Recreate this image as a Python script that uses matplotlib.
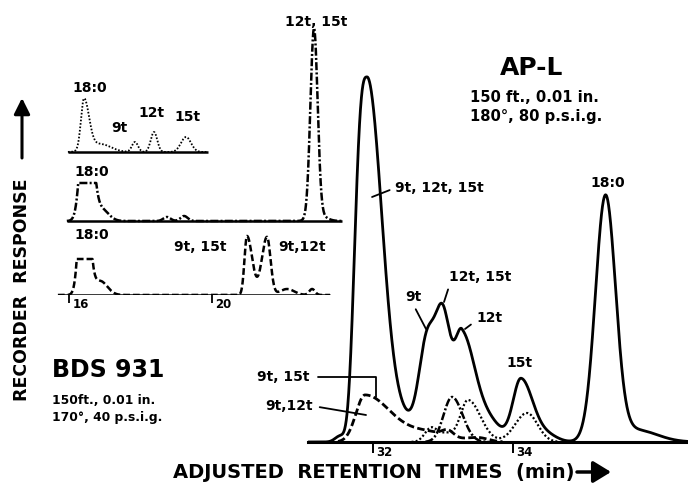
import numpy as np
import matplotlib
matplotlib.use("Agg")
import matplotlib.pyplot as plt

W, H = 688, 486
plt.rcParams['font.family'] = ['DejaVu Sans']
plt.rcParams['font.weight'] = 'bold'

# ---------------- main chromatogram (AP-L) : retention time (min) / response
main_xlim = (31.071, 36.5)
main_ylim = (0, 422)
main_ticks = [32, 34]
main_tick_labels = ['32', '34']

# solid trace : mixture (peak centre, height, left width, right width, left exponent)
solid_c = [31.529, 31.914, 32.457, 32.771, 33.000, 33.271, 33.671, 34.114, 34.500, 35.321, 35.757]
solid_h = [6, 365, 18, 97, 120, 107, 18, 63, 6, 243, 12]
solid_sl = [0.07, 0.164, 0.171, 0.114, 0.107, 0.107, 0.171, 0.114, 0.143, 0.143, 0.30]
solid_sr = [0.07, 0.214, 0.171, 0.114, 0.107, 0.186, 0.171, 0.171, 0.143, 0.143, 0.30]
solid_pl = [2, 3, 2, 2, 2, 2, 2, 2, 2, 2, 2]
solid_range = (31.071, 36.5)

# dashed trace : 9t,15t + 9t,12t fraction
dashed_c = [31.886, 32.80, 33.07, 33.50]
dashed_h = [47, 9, 6, 4]
dashed_sl = [0.13, 0.30, 0.08, 0.15]
dashed_sr = [0.37, 0.30, 0.08, 0.15]
dashed_range = (31.50, 33.85)

# dash-dot trace : 12t,15t fraction
dashdot_c = [33.129]
dashdot_h = [45]
dashdot_sl = [0.12]
dashdot_sr = [0.15]
dashdot_range = (32.75, 33.65)

# dotted trace : 18:0 / 9t / 12t / 15t fraction
dotted_c = [32.83, 33.05, 33.357, 34.20]
dotted_h = [14, 8, 42, 29]
dotted_sl = [0.09, 0.10, 0.11, 0.17]
dotted_sr = [0.09, 0.10, 0.18, 0.15]
dotted_range = (32.55, 34.65)

# ---------------- inset chromatograms (BDS 931)
inset_xlim = (15.469, 23.72)
inset_ylim = (0, 275)
inset_ticks = [16, 20]
inset_tick_labels = ['16', '20']

top_base = 143
top_range = (15.97, 19.89)
top_c = [16.42, 16.87, 17.846, 18.378, 19.273]
top_h = [51, 8, 10, 20, 15]
top_sl = [0.085, 0.30, 0.085, 0.09, 0.14]
top_sr = [0.14, 0.30, 0.085, 0.09, 0.14]

mid_base = 74
mid_range = (15.94, 23.64)
mid_clip = 38          # recorder off scale on 18:0
mid_c = [16.49, 16.90, 18.74, 19.22, 22.853, 22.98]
mid_h = [150, 12, 4, 5, 188, 6]
mid_sl = [0.14, 0.20, 0.10, 0.10, 0.10, 0.20]
mid_sr = [0.15, 0.20, 0.10, 0.10, 0.10, 0.20]

bot_base = 0
bot_range = (15.69, 23.30)
bot_clip = 36
bot_c = [16.42, 16.87, 20.979, 21.538, 22.10, 22.80]
bot_h = [150, 14, 59, 58, 6, 6]
bot_sl = [0.12, 0.20, 0.07, 0.145, 0.20, 0.08]
bot_sr = [0.13, 0.20, 0.145, 0.10, 0.20, 0.08]
clip_until = 17.5


def trace(t, c, h, sl, sr, pl=None):
    y = np.zeros_like(t)
    for i in range(len(c)):
        d = t - c[i]
        s = np.where(d < 0, sl[i], sr[i])
        p = np.where(d < 0, (pl[i] if pl else 2), 2)
        y += h[i] * np.exp(-0.5 * np.abs(d / s) ** p)
    return y


def fpx(x, y):
    return (x, H - y)


fig = plt.figure(figsize=(W / 100, H / 100), dpi=100)

# ---------------- main axes
ax = fig.add_axes([308 / W, (H - 442) / H, 380 / W, 422 / H])
ax.set_xlim(*main_xlim)
ax.set_ylim(*main_ylim)
for s in ['top', 'right', 'left']:
    ax.spines[s].set_visible(False)
ax.spines['bottom'].set_linewidth(2.2)
ax.set_yticks([])
ax.set_xticks(main_ticks)
ax.set_xticklabels([])
ax.tick_params(axis='x', direction='out', length=8, width=1.4)
for tk, lb in zip(main_ticks, main_tick_labels):
    ax.annotate(lb, xy=(tk, 0), xycoords=('data', 'axes fraction'), xytext=(2.5, -3),
                textcoords='offset points', ha='left', va='top', fontsize=8.5,
                fontweight='bold', annotation_clip=False)

t = np.linspace(*solid_range, 2000)
ax.plot(t, trace(t, solid_c, solid_h, solid_sl, solid_sr, solid_pl), color='black', lw=2.0,
        solid_capstyle='round')
t = np.linspace(*dashed_range, 800)
ax.plot(t, trace(t, dashed_c, dashed_h, dashed_sl, dashed_sr), color='black', lw=2.0,
        linestyle=(0, (2.7, 1.2)))
t = np.linspace(*dashdot_range, 400)
ax.plot(t, trace(t, dashdot_c, dashdot_h, dashdot_sl, dashdot_sr), color='black', lw=1.8,
        linestyle=(0, (3.2, 0.9, 0.8, 0.9)))
t = np.linspace(*dotted_range, 800)
ax.plot(t, trace(t, dotted_c, dotted_h, dotted_sl, dotted_sr), color='black', lw=1.6,
        linestyle=(0, (0.9, 1.0)))

lab = dict(fontsize=10, fontweight='bold', annotation_clip=False)
arr = dict(arrowstyle='-', lw=1.3, color='black', shrinkA=2, shrinkB=0)
ax.annotate('9t, 12t, 15t', xy=(31.986, 245), xytext=fpx(395, 188), textcoords='figure pixels',
            ha='left', va='center', arrowprops=dict(arr, relpos=(0, 0.5)), **lab)
ax.annotate('12t, 15t', xy=(33.014, 140), xytext=fpx(480, 277), textcoords='figure pixels',
            ha='center', va='center', arrowprops=dict(arr, relpos=(0.02, 0.05)), **lab)
ax.annotate('9t', xy=(32.757, 113), xytext=fpx(413, 297), textcoords='figure pixels',
            ha='center', va='center', arrowprops=dict(arr, relpos=(0.5, 0)), **lab)
ax.annotate('12t', xy=(33.314, 113), xytext=fpx(489, 318), textcoords='figure pixels',
            ha='center', va='center', arrowprops=dict(arr, relpos=(0, 0.3)), **lab)
ax.annotate('9t, 15t', xy=(32.043, 45), xytext=fpx(283, 377), textcoords='figure pixels',
            ha='center', va='center',
            arrowprops=dict(arr, relpos=(1, 0.5), shrinkA=4,
                            connectionstyle='angle,angleA=0,angleB=90,rad=0'), **lab)
ax.annotate('9t,12t', xy=(31.9, 27), xytext=fpx(289, 406), textcoords='figure pixels',
            ha='center', va='center', arrowprops=dict(arr, relpos=(1, 0.5), shrinkA=3), **lab)
fig.text(520 / W, 1 - 363 / H, '15t', ha='center', va='center', fontsize=10, fontweight='bold')
fig.text(608 / W, 1 - 183 / H, '18:0', ha='center', va='center', fontsize=10, fontweight='bold')

# ---------------- inset axes
ai = fig.add_axes([50 / W, (H - 295) / H, 295 / W, 275 / H])
ai.set_xlim(*inset_xlim)
ai.set_ylim(*inset_ylim)
for s in ai.spines.values():
    s.set_visible(False)
ai.set_yticks([])
ai.set_xticks(inset_ticks)
ai.set_xticklabels([])
ai.tick_params(axis='x', direction='out', length=6, width=1.3)
for tk, lb in zip(inset_ticks, inset_tick_labels):
    ai.annotate(lb, xy=(tk, 0), xycoords=('data', 'axes fraction'), xytext=(2.5, -2),
                textcoords='offset points', ha='left', va='top', fontsize=8.5,
                fontweight='bold', annotation_clip=False)

for base, rng in [(top_base, top_range), (mid_base, mid_range), (bot_base, bot_range)]:
    ai.hlines(base, rng[0], rng[1], color='black', lw=1.8)

t = np.linspace(*top_range, 800)
ai.plot(t, top_base + trace(t, top_c, top_h, top_sl, top_sr), color='black', lw=1.3,
        linestyle=(0, (0.9, 1.0)))
t = np.linspace(*mid_range, 1500)
y = trace(t, mid_c, mid_h, mid_sl, mid_sr)
y = np.where(t < clip_until, np.minimum(y, mid_clip), y)
ai.plot(t, mid_base + y, color='black', lw=1.8, linestyle=(0, (3.2, 0.9, 0.8, 0.9)))
t = np.linspace(*bot_range, 1500)
y = trace(t, bot_c, bot_h, bot_sl, bot_sr)
y = np.where(t < clip_until, np.minimum(y, bot_clip), y)
ai.plot(t, bot_base + y, color='black', lw=1.8, linestyle=(0, (2.7, 1.2)))

for s, x, y in [('18:0', 90, 88), ('9t', 119, 128), ('12t', 152, 113), ('15t', 187, 117),
                ('18:0', 92, 172), ('12t, 15t', 316, 22), ('18:0', 92, 235),
                ('9t, 15t', 200, 247), ('9t,12t', 302, 247)]:
    fig.text(x / W, 1 - y / H, s, ha='center', va='center', fontsize=10, fontweight='bold')

# ---------------- column captions
fig.text(532 / W, 1 - 68 / H, 'AP-L', ha='center', va='center', fontsize=18, fontweight='bold')
fig.text(470 / W, 1 - 98 / H, '150 ft., 0.01 in.', ha='left', va='center', fontsize=10.6,
         fontweight='bold')
fig.text(470 / W, 1 - 117 / H, '180°, 80 p.s.i.g.', ha='left', va='center', fontsize=10.6,
         fontweight='bold')
fig.text(52 / W, 1 - 370 / H, 'BDS 931', ha='left', va='center', fontsize=17, fontweight='bold')
fig.text(52 / W, 1 - 400 / H, '150ft., 0.01 in.', ha='left', va='center', fontsize=8.8,
         fontweight='bold')
fig.text(52 / W, 1 - 418 / H, '170°, 40 p.s.i.g.', ha='left', va='center', fontsize=8.8,
         fontweight='bold')

# ---------------- axis titles with arrows
fig.text(22 / W, 1 - 290 / H, 'RECORDER  RESPONSE', rotation=90, ha='center', va='center',
         fontsize=12.5, fontweight='bold')
ax.annotate('', xy=fpx(22, 98), xycoords='figure pixels', xytext=fpx(22, 158),
            textcoords='figure pixels', annotation_clip=False,
            arrowprops=dict(arrowstyle='-|>,head_length=0.8,head_width=0.4', lw=2.2,
                            color='black', mutation_scale=12, shrinkA=0, shrinkB=0))
fig.text(374 / W, 1 - 472 / H, 'ADJUSTED  RETENTION  TIMES  (min)', ha='center', va='center',
         fontsize=14, fontweight='bold')
ax.annotate('', xy=fpx(611, 472), xycoords='figure pixels', xytext=fpx(577, 472),
            textcoords='figure pixels', annotation_clip=False,
            arrowprops=dict(arrowstyle='-|>,head_length=0.9,head_width=0.55', lw=2.5,
                            color='black', mutation_scale=12, shrinkA=0, shrinkB=0))

fig.savefig('out.png', dpi=100, facecolor='white')
